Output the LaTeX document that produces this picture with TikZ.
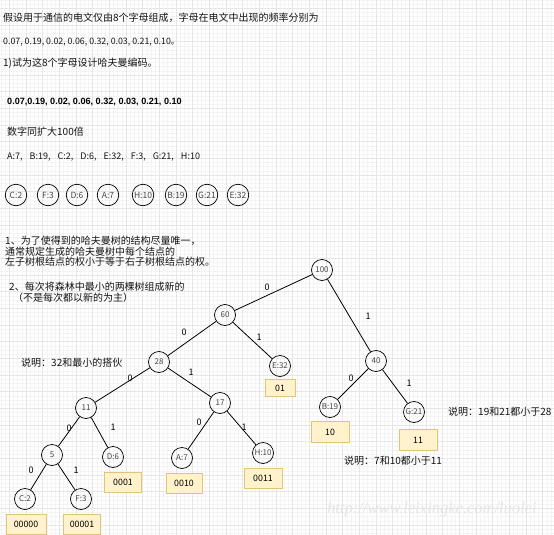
\documentclass[tikz,border=0pt]{standalone}
\usepackage{fontspec}
\setmainfont{Noto Sans CJK SC}
\newfontfamily\latb{Liberation Sans}
\newfontfamily\wmfont{Liberation Serif}
\definecolor{codefill}{HTML}{FFF2CC}
\definecolor{codeborder}{HTML}{E2C574}
\definecolor{gridminor}{HTML}{F4F4F4}
\definecolor{gridmajor}{HTML}{E6E6E6}
\begin{document}
\begin{tikzpicture}[x=1pt,y=-1pt,
  tn/.style={circle, draw, line width=0.7pt, minimum size=21pt, inner sep=0pt,
     font=\fontsize{8}{9}\selectfont, text=black!72},
  tr/.style={tn, minimum size=21.5pt, font=\fontsize{8.5}{9}\selectfont},
  codebox/.style={draw=codeborder, fill=codefill, line width=0.6pt, minimum height=20pt,
     inner sep=0pt, font=\fontsize{8.8}{9}\selectfont},
  el/.style={font=\fontsize{9}{10}\selectfont, inner sep=0pt},
  txt/.style={anchor=west, inner sep=0pt, font=\fontsize{10}{10.5}\selectfont, text=black!92},
  edge/.style={line width=0.8pt}]
\useasboundingbox (0,0) rectangle (554,535);
\fill[white] (0,0) rectangle (554,535);
% grid
\foreach \i in {0,...,133} {
  \draw[gridminor, line width=0.5pt] ({0.97+\i*4.1667},0) -- ({0.97+\i*4.1667},535);
  \draw[gridminor, line width=0.5pt] (0,{\i*4.1667}) -- (554,{\i*4.1667});
}
\foreach \i in {0,...,33} {
  \draw[gridmajor, line width=0.5pt] ({9.3+\i*16.667},0) -- ({9.3+\i*16.667},535);
  \draw[gridmajor, line width=0.5pt] (0,{8.3+\i*16.667}) -- (554,{8.3+\i*16.667});
}
% header text
\node[txt] (l1) at (3,18) {假设用于通信的电文仅由8个字母组成，字母在电文中出现的频率分别为};
\node[txt, font=\fontsize{8.8}{10}\selectfont] (l2) at (3,42) {0.07, 0.19, 0.02, 0.06, 0.32, 0.03, 0.21, 0.10。};
\node[txt] (l3) at (3,63) {1)试为这8个字母设计哈夫曼编码。};
\node[txt, font=\latb\bfseries\fontsize{9.1}{10}\selectfont, text=black] (l4) at (7,102) {0.07,0.19, 0.02, 0.06, 0.32, 0.03, 0.21, 0.10};
\node[txt] (l5) at (7,132) {数字同扩大100倍};
\node[txt, font=\fontsize{9}{10}\selectfont] (l6) at (7,157) {A:7,\hspace{7pt}B:19,\hspace{7pt}C:2,\hspace{7pt}D:6,\hspace{7pt}E:32,\hspace{7pt}F:3,\hspace{7pt}G:21,\hspace{7pt}H:10};
% initial forest
\node[tr] (r1) at (16,195) {C:2};
\node[tr] (r2) at (48,195) {F:3};
\node[tr] (r3) at (77,195) {D:6};
\node[tr] (r4) at (108,195) {A:7};
\node[tr] (r5) at (143,195) {H:10};
\node[tr] (r6) at (176,195) {B:19};
\node[tr] (r7) at (207,195) {G:21};
\node[tr] (r8) at (238,195) {E:32};
% notes
\node[txt] (n1) at (5,241) {1、为了使得到的哈夫曼树的结构尽量唯一，};
\node[txt] (n2) at (5,252) {通常规定生成的哈夫曼树中每个结点的};
\node[txt] (n3) at (5,262) {左子树根结点的权小于等于右子树根结点的权。};
\node[txt] (n4) at (9,287) {2、每次将森林中最小的两棵树组成新的};
\node[txt] (n5) at (13,298) {（不是每次都以新的为主）};
\node[txt] (n6) at (21,363) {说明：32和最小的搭伙};
\node[txt] (n7) at (448,412) {说明：19和21都小于28};
\node[txt] (n8) at (344,461) {说明：7和10都小于11};
% tree nodes
\node[tn] (t100) at (322,270) {100};
\node[tn] (t60) at (225,315) {60};
\node[tn] (t40) at (376,361) {40};
\node[tn] (t28) at (159,362) {28};
\node[tn] (e32) at (280,366) {E:32};
\node[tn] (b19) at (330,407) {B:19};
\node[tn] (g21) at (414,412) {G:21};
\node[tn] (t11) at (86,408) {11};
\node[tn] (t17) at (220,403) {17};
\node[tn] (t5) at (52,455) {5};
\node[tn] (d6) at (113,457) {D:6};
\node[tn] (a7) at (182,458) {A:7};
\node[tn] (h10) at (263,453) {H:10};
\node[tn] (c2) at (25,499) {C:2};
\node[tn] (f3) at (81,499) {F:3};
% edges
\draw[edge] (t100) -- (t60);
\draw[edge] (t100) -- (t40);
\draw[edge] (t60) -- (t28);
\draw[edge] (t60) -- (e32);
\draw[edge] (t40) -- (b19);
\draw[edge] (t40) -- (g21);
\draw[edge] (t28) -- (t11);
\draw[edge] (t28) -- (t17);
\draw[edge] (t11) -- (t5);
\draw[edge] (t11) -- (d6);
\draw[edge] (t17) -- (a7);
\draw[edge] (t17) -- (h10);
\draw[edge] (t5) -- (c2);
\draw[edge] (t5) -- (f3);
% edge labels
\node[el] (k1) at (267,287) {0};
\node[el] (k2) at (368,316) {1};
\node[el] (k3) at (184,332) {0};
\node[el] (k4) at (259,337) {1};
\node[el] (k5) at (351,378) {0};
\node[el] (k6) at (409,383) {1};
\node[el] (k7) at (130,378) {0};
\node[el] (k8) at (191,372) {1};
\node[el] (k9) at (69,428) {0};
\node[el] (k10) at (113,427) {1};
\node[el] (k11) at (199,422) {0};
\node[el] (k12) at (244,427) {1};
\node[el] (k13) at (31,470) {0};
\node[el] (k14) at (76,470) {1};
% codes
\node[codebox, minimum width=30pt, minimum height=17pt] (c01) at (280,388) {01};
\node[codebox, minimum width=38pt, minimum height=21pt] (c10) at (330,432) {10};
\node[codebox, minimum width=38pt, minimum height=21pt] (c11) at (418,440) {11};
\node[codebox, minimum width=37pt] (c0001) at (123,482) {0001};
\node[codebox, minimum width=36pt] (c0010) at (184,483) {0010};
\node[codebox, minimum width=38pt] (c0011) at (263,478) {0011};
\node[codebox, minimum width=40pt] (c00000) at (26,524) {00000};
\node[codebox, minimum width=37pt] (c00001) at (82,524) {00001};
% watermark
\node[anchor=west, inner sep=0pt, text=black!10, font=\wmfont\itshape\fontsize{16.5}{18}\selectfont] (wm) at (327,510) {http://www.leixingke.com/luolei};
\end{tikzpicture}
\end{document}
